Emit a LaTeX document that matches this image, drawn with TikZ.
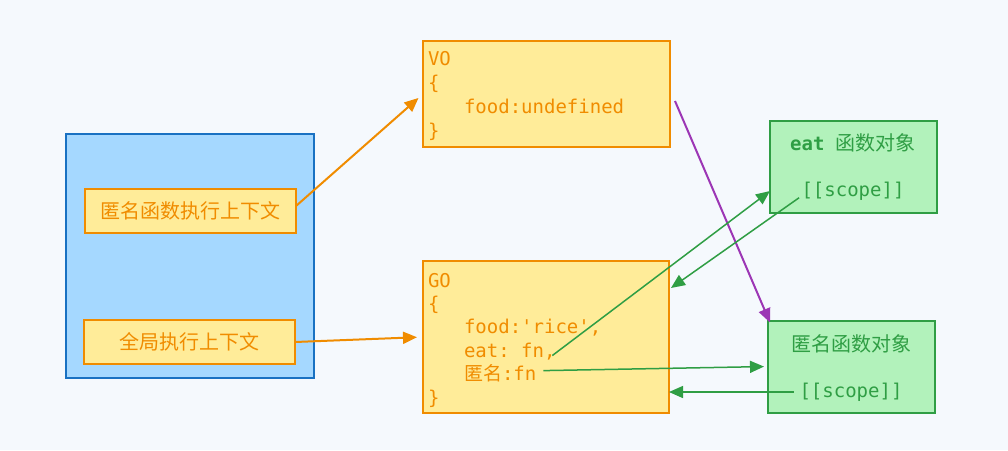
\documentclass[tikz,border=0pt]{standalone}
\usepackage{fontspec}
\setmonofont{DejaVu Sans Mono}
\newfontfamily\cjk{Noto Sans CJK SC}
\usetikzlibrary{arrows.meta}
\definecolor{bgblue}{HTML}{F5F9FD}
\definecolor{ctxblue}{HTML}{A5D8FF}
\definecolor{ctxedge}{HTML}{1971C2}
\definecolor{objyellow}{HTML}{FFEC99}
\definecolor{objorange}{HTML}{F08C00}
\definecolor{fngreen}{HTML}{B2F2BB}
\definecolor{fnedge}{HTML}{2F9E44}
\definecolor{scopepurple}{HTML}{9C36B5}

\begin{document}
\begin{tikzpicture}[x=1pt,y=-1pt]
	  \tikzstyle{every node} = [inner sep=0pt, outer sep=0pt]
	  \tikzstyle{ctx} = [draw=objorange, fill=objyellow, line width=2pt, text=objorange, minimum width=211pt, minimum height=44pt, font=\cjk\fontsize{20}{20}\selectfont]
	  \tikzstyle{obj} = [draw=objorange, fill=objyellow, line width=2pt]
	  \tikzstyle{fnobj} = [draw=fnedge, fill=fngreen, line width=2pt, minimum width=167pt, minimum height=92pt]
	  \tikzstyle{code} = [anchor=base west, text=objorange, font=\ttfamily\fontsize{19}{19}\selectfont]
	  \tikzstyle{fntext} = [text=fnedge, font=\ttfamily\fontsize{19}{19}\selectfont]
	  \tikzstyle{tip} = [-{Triangle[length=14pt,width=12pt]}]
	  \fill[bgblue] (0,0) rectangle (1008,450);
	  % execution context stack
	  \node (stack)[draw=ctxedge, fill=ctxblue, line width=1.5pt, minimum width=248pt, minimum height=244pt] at (190,256) {};
	  \node (anonctx)[ctx] at (190.5,211) {匿名函数执行上下文};
	  \node (globctx)[ctx] at (189.5,342) {全局执行上下文};
	  % variable objects
	  \node (vo)[obj, minimum width=247pt, minimum height=106pt] at (546.5,94) {};
	  \node (vo1)[code] at (428,65) {VO};
	  \node (vo2)[code] at (428,89) {\{};
	  \node (vo3)[code] at (464,113) {food:undefined};
	  \node (vo4)[code] at (428,137) {\}};
	  \node (go)[obj, minimum width=246pt, minimum height=152pt] at (546,337) {};
	  \node (go1)[code] at (428,287) {GO};
	  \node (go2)[code] at (428,310) {\{};
	  \node (go3)[code] at (464,333) {food:'rice',};
	  \node (go4)[code] at (464,357) {eat: fn,};
	  \node (go5)[code] at (464,380) {{\cjk 匿名}:fn};
	  \node (go6)[code] at (428,404) {\}};
	  % function objects
	  \node (eatobj)[fnobj] at (853.5,167) {};
	  \node (eatname)[fntext] at (853,143) {\textbf{eat}~{\cjk\fontsize{20}{20}\selectfont 函数对象}};
	  \node (eatscope)[fntext] at (853,191) {[[scope]]};
	  \node (anonobj)[fnobj] at (851.5,366.5) {};
	  \node (anonname)[fntext, font=\cjk\fontsize{20}{20}\selectfont] at (851,344) {匿名函数对象};
	  \node (anonscope)[fntext] at (851,392) {[[scope]]};
	  \coordinate (voout) at (675,101);
	  \coordinate (goin) at (671,288);
	  % links
	  \draw[tip, objorange, line width=2pt, shorten >=6pt] ([yshift=5pt]anonctx.east) -- (vo.west);
	  \draw[tip, objorange, line width=2pt, shorten >=6pt] (globctx.east) -- (go.west);
	  \draw[tip, scopepurple, line width=2pt] (voout) -- ([xshift=2pt,yshift=-2pt]anonobj.north west);
	  \draw[tip, fnedge, line width=1.5pt, shorten <=-4pt] ([yshift=-2pt]go4.east) -- (eatobj.west |- eatscope);
	  \draw[tip, fnedge, line width=1.5pt, shorten <=3pt] ([yshift=-5pt]eatscope.west) -- (goin);
	  \draw[tip, fnedge, line width=1.5pt, shorten <=7pt, shorten >=4pt] ([yshift=2pt]go5.east) -- (anonobj.west);
	  \draw[tip, fnedge, line width=1.5pt, shorten <=6pt] (anonscope.west) -- (go.east |- anonscope);
	\end{tikzpicture}
\end{document}
